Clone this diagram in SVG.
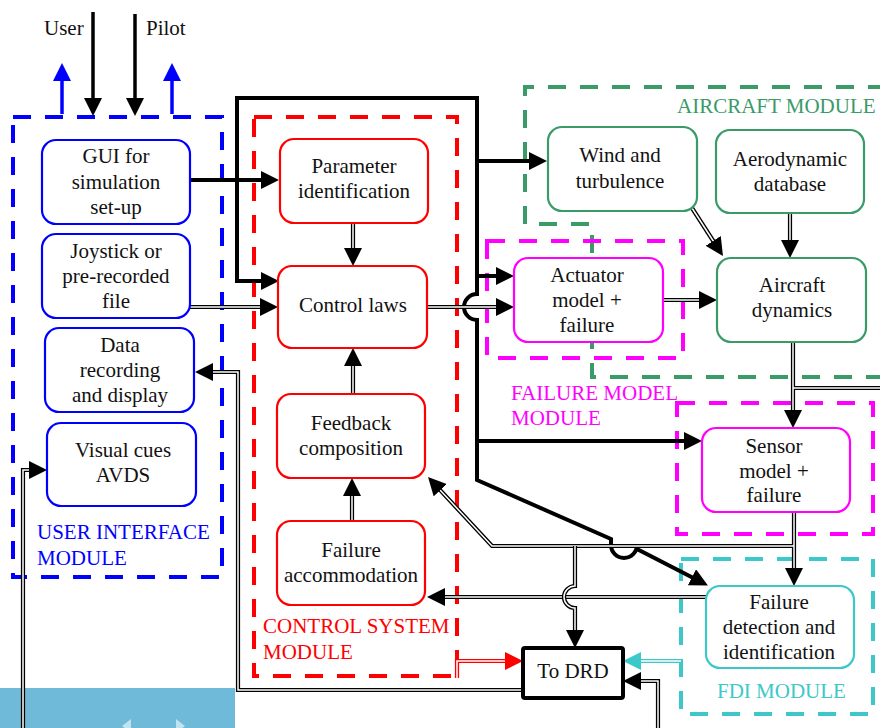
<svg xmlns="http://www.w3.org/2000/svg" xmlns:xlink="http://www.w3.org/1999/xlink" width="880" height="728" viewBox="0 0 880 728" font-family="'Liberation Serif', 'DejaVu Serif', serif">
  <style>
    text { font-family: "Liberation Serif", "Times New Roman", "DejaVu Serif", serif; font-size: 21px; fill: #111; }
    .c { text-anchor: middle; }
    .box { fill: #fff; stroke-width: 2.2; }
    .ui .box { stroke: #0000ff; }
    .cs .box { stroke: #ff0000; }
    .ac .box { stroke: #3a9a68; }
    .fm .box { stroke: #ff00ff; }
    .fd .box { stroke: #3cc8c8; }
    .drd .box { stroke: #000; stroke-width: 4; }
    .mod { fill: none; stroke-width: 4; stroke-dasharray: 18 14; }
    .bus { fill: none; stroke: #000; stroke-width: 4; stroke-linejoin: miter; }
    .o { fill: none; stroke: #000; stroke-width: 4.2; }
    .i { fill: none; stroke: #fff; stroke-width: 1.5; }
    .ro { fill: none; stroke: #ff0000; stroke-width: 4.2; }
    .co { fill: none; stroke: #3cc8c8; stroke-width: 4.2; }
    .ah { marker-end: url(#ah); }
    .ahr { marker-end: url(#ahr); }
    .ahc { marker-end: url(#ahc); }
  </style>
  <defs>
    <marker id="ah" viewBox="0 0 18 18" refX="12" refY="9" markerWidth="18" markerHeight="18" markerUnits="userSpaceOnUse" orient="auto">
      <path d="M0,0 L18,9 L0,18 z" fill="#000"/>
    </marker>
    <marker id="ahr" viewBox="0 0 18 18" refX="12" refY="9" markerWidth="18" markerHeight="18" markerUnits="userSpaceOnUse" orient="auto">
      <path d="M0,0 L18,9 L0,18 z" fill="#ff0000"/>
    </marker>
    <marker id="ahc" viewBox="0 0 18 18" refX="12" refY="9" markerWidth="18" markerHeight="18" markerUnits="userSpaceOnUse" orient="auto">
      <path d="M0,0 L18,9 L0,18 z" fill="#3cc8c8"/>
    </marker>
    <marker id="ahb" viewBox="0 0 18 18" refX="12" refY="9" markerWidth="18" markerHeight="18" markerUnits="userSpaceOnUse" orient="auto">
      <path d="M0,0 L18,9 L0,18 z" fill="#0000ff"/>
    </marker>

    <!-- double-line connector routes -->
    <path id="d-joy" d="M190,307 L272,307"/>
    <path id="d-par" d="M353,223 L353,260"/>
    <path id="d-fb" d="M353,394 L353,354"/>
    <path id="d-fa" d="M352,521 L352,484"/>
    <path id="d-cl" d="M427,307 L508,307"/>
    <path id="d-act" d="M663,300 L711,300"/>
    <path id="d-wind" d="M692,208 L719.7,251"/>
    <path id="d-aero" d="M790,213 L790,252"/>
    <path id="d-dyn" d="M793,342 L793,422"/>
    <path id="d-dynr" d="M793,388 L884,388"/>
    <path id="d-sen" d="M794,512 L794,580"/>
    <path id="d-sbus" d="M794,546 L492,546 L432.1,481.4"/>
    <path id="d-down" d="M575,546 L575,586 A11,11 0 0 0 575,608 L575,642"/>
    <path id="d-fdi" d="M706,597 L433,597"/>
    <path id="d-rec" d="M523,690 L238,690 L238,372 L201,372"/>
    <path id="d-vis" d="M23,732 L23,470 L41,470"/>
    <path id="d-br" d="M658,732 L658,681 L629,681"/>
    <path id="d-red" d="M457,678 L457,661 L517,661"/>
    <path id="d-cyan" d="M681,661 L629,661"/>
  </defs>

  <rect width="880" height="728" fill="#fff"/>

  <!-- backdrop strip at lower left -->
  <rect x="0" y="688" width="235" height="40" fill="#6fbad8"/>
  <path d="M131,719 L122,726 L131,733 z M176,719 L185,726 L176,733 z" fill="#d6ecf5" opacity="0.8"/>

  <!-- module frames -->
  <g id="modules">
    <path class="mod" stroke="#3a9a68" d="M884,377 L592,377 L592,224 L525,224 L525,87 L884,87"/>
    <rect class="mod" stroke="#0000ff" x="13" y="117" width="209" height="460"/>
    <rect class="mod" stroke="#ff0000" x="254" y="117" width="203" height="559"/>
    <rect class="mod" stroke="#ff00ff" x="487" y="241" width="196" height="117"/>
    <rect class="mod" stroke="#ff00ff" x="677" y="403" width="196" height="131"/>
    <rect class="mod" stroke="#3cc8c8" x="681" y="559" width="192" height="155"/>
  </g>

  <!-- module captions -->
  <g id="captions">
    <text x="677" y="113" style="fill:#3a9a68">AIRCRAFT MODULE</text>
    <text x="511" y="400" style="fill:#ff00ff">FAILURE MODEL</text>
    <text x="511" y="425" style="fill:#ff00ff">MODULE</text>
    <text x="37" y="539" style="fill:#0000ff">USER INTERFACE</text>
    <text x="37" y="565" style="fill:#0000ff">MODULE</text>
    <text x="263" y="633" style="fill:#ff0000">CONTROL SYSTEM</text>
    <text x="263" y="659" style="fill:#ff0000">MODULE</text>
    <text x="717" y="698" style="fill:#3cc8c8">FDI MODULE</text>
    <text x="44" y="35">User</text>
    <text x="146" y="35">Pilot</text>
  </g>

  <!-- connectors -->
  <g id="connectors">
    <!-- user / pilot inputs and outputs -->
    <path class="bus" d="M93,12 L93,110" style="stroke-width:3.5" marker-end="url(#ah)"/>
    <path class="bus" d="M135,14 L135,110" style="stroke-width:3.5" marker-end="url(#ah)"/>
    <path d="M62,114 L62,69" fill="none" stroke="#0000ff" stroke-width="3.5" marker-end="url(#ahb)"/>
    <path d="M172,114 L172,69" fill="none" stroke="#0000ff" stroke-width="3.5" marker-end="url(#ahb)"/>

    <!-- thick command bus -->
    <path class="bus" d="M190,180 L273,180" marker-end="url(#ah)"/>
    <path class="bus" d="M479,98 L237,98 L237,281 L273,281" marker-end="url(#ah)"/>
    <path class="bus" d="M477,96 L477,294 A13,13 0 0 0 477,320 L477,480 L611,539 L611,545 A13,13 0 0 0 637,545 L637,549 L702.6,582.8" marker-end="url(#ah)"/>
    <path class="bus" d="M477,161 L541,161" marker-end="url(#ah)"/>
    <path class="bus" d="M477,276 L508,276" marker-end="url(#ah)"/>
    <path class="bus" d="M477,441 L696,441" marker-end="url(#ah)"/>

    <!-- double-line signal paths -->
    <use xlink:href="#d-joy" class="o"/><use xlink:href="#d-joy" class="i ah"/>
    <use xlink:href="#d-par" class="o"/><use xlink:href="#d-par" class="i ah"/>
    <use xlink:href="#d-fb" class="o"/><use xlink:href="#d-fb" class="i ah"/>
    <use xlink:href="#d-fa" class="o"/><use xlink:href="#d-fa" class="i ah"/>
    <use xlink:href="#d-cl" class="o"/><use xlink:href="#d-cl" class="i ah"/>
    <use xlink:href="#d-act" class="o"/><use xlink:href="#d-act" class="i ah"/>
    <use xlink:href="#d-wind" class="o"/><use xlink:href="#d-wind" class="i ah"/>
    <use xlink:href="#d-aero" class="o"/><use xlink:href="#d-aero" class="i ah"/>
    <use xlink:href="#d-dyn" class="o"/><use xlink:href="#d-dynr" class="o"/>
    <use xlink:href="#d-dynr" class="i"/><use xlink:href="#d-dyn" class="i ah"/>
    <use xlink:href="#d-sbus" class="o"/><use xlink:href="#d-sen" class="o"/>
    <use xlink:href="#d-sbus" class="i ah"/><use xlink:href="#d-sen" class="i ah"/>
    <use xlink:href="#d-fdi" class="o"/><use xlink:href="#d-fdi" class="i ah"/>
    <use xlink:href="#d-down" class="o"/><use xlink:href="#d-down" class="i ah"/>
    <use xlink:href="#d-rec" class="o"/><use xlink:href="#d-rec" class="i ah"/>
    <use xlink:href="#d-vis" class="o"/><use xlink:href="#d-vis" class="i ah"/>
    <use xlink:href="#d-br" class="o"/><use xlink:href="#d-br" class="i ah"/>
    <use xlink:href="#d-red" class="ro"/><use xlink:href="#d-red" class="i ahr"/>
    <use xlink:href="#d-cyan" class="co"/><use xlink:href="#d-cyan" class="i ahc"/>
  </g>

  <!-- user interface module -->
  <g id="gui" class="ui">
    <rect class="box" x="42" y="140" width="148" height="84" rx="14"/>
    <text class="c" x="116" y="163">GUI for</text>
    <text class="c" x="116" y="189">simulation</text>
    <text class="c" x="116" y="214">set-up</text>
  </g>
  <g id="joystick" class="ui">
    <rect class="box" x="42" y="234" width="148" height="84" rx="14"/>
    <text class="c" x="116" y="258">Joystick or</text>
    <text class="c" x="116" y="283">pre-recorded</text>
    <text class="c" x="116" y="308">file</text>
  </g>
  <g id="data-recording" class="ui">
    <rect class="box" x="45" y="328" width="149" height="84" rx="14"/>
    <text class="c" x="120" y="352">Data</text>
    <text class="c" x="120" y="377">recording</text>
    <text class="c" x="120" y="402">and display</text>
  </g>
  <g id="visual-cues" class="ui">
    <rect class="box" x="47" y="423" width="149" height="83" rx="14"/>
    <text class="c" x="123" y="457">Visual cues</text>
    <text class="c" x="123" y="482">AVDS</text>
  </g>

  <!-- control system module -->
  <g id="parameter-identification" class="cs">
    <rect class="box" x="280" y="139" width="148" height="84" rx="14"/>
    <text class="c" x="354" y="173">Parameter</text>
    <text class="c" x="354" y="198">identification</text>
  </g>
  <g id="control-laws" class="cs">
    <rect class="box" x="278" y="266" width="149" height="82" rx="14"/>
    <text class="c" x="353" y="312">Control laws</text>
  </g>
  <g id="feedback-composition" class="cs">
    <rect class="box" x="277" y="394" width="148" height="84" rx="14"/>
    <text class="c" x="351" y="430">Feedback</text>
    <text class="c" x="351" y="455">composition</text>
  </g>
  <g id="failure-accommodation" class="cs">
    <rect class="box" x="277" y="521" width="148" height="84" rx="14"/>
    <text class="c" x="351" y="557">Failure</text>
    <text class="c" x="351" y="582">accommodation</text>
  </g>

  <!-- aircraft module -->
  <g id="wind" class="ac">
    <rect class="box" x="548" y="127" width="149" height="84" rx="14"/>
    <text class="c" x="620" y="162">Wind and</text>
    <text class="c" x="620" y="188">turbulence</text>
  </g>
  <g id="aero-database" class="ac">
    <rect class="box" x="716" y="130" width="148" height="83" rx="14"/>
    <text class="c" x="790" y="166">Aerodynamic</text>
    <text class="c" x="790" y="191">database</text>
  </g>
  <g id="aircraft-dynamics" class="ac">
    <rect class="box" x="717" y="258" width="149" height="84" rx="14"/>
    <text class="c" x="792" y="292">Aircraft</text>
    <text class="c" x="792" y="317">dynamics</text>
  </g>

  <!-- failure model module -->
  <g id="actuator" class="fm">
    <rect class="box" x="514" y="258" width="149" height="84" rx="14"/>
    <text class="c" x="587" y="282">Actuator</text>
    <text class="c" x="587" y="307">model +</text>
    <text class="c" x="587" y="332">failure</text>
  </g>
  <g id="sensor" class="fm">
    <rect class="box" x="702" y="428" width="148" height="84" rx="14"/>
    <text class="c" x="774" y="453">Sensor</text>
    <text class="c" x="774" y="478">model +</text>
    <text class="c" x="774" y="502">failure</text>
  </g>

  <!-- FDI module -->
  <g id="fdi" class="fd">
    <rect class="box" x="706" y="586" width="148" height="82" rx="14"/>
    <text class="c" x="779" y="609">Failure</text>
    <text class="c" x="779" y="634">detection and</text>
    <text class="c" x="779" y="659">identification</text>
  </g>

  <!-- data recording destination -->
  <g id="to-drd" class="drd">
    <rect class="box" x="523" y="648" width="100" height="50" rx="2"/>
    <text class="c" x="573" y="678">To DRD</text>
  </g>
</svg>
